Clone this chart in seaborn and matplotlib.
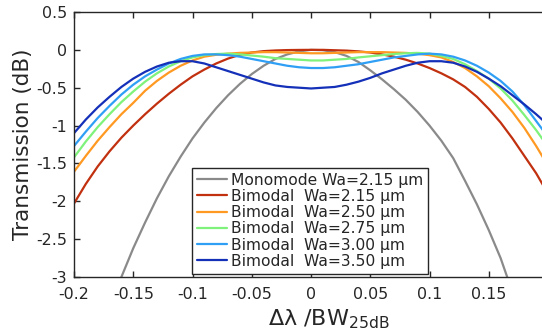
import numpy as np
import pandas as pd
import seaborn as sns
import matplotlib.pyplot as plt
from matplotlib.ticker import FormatStrFormatter

# normalised detuning, sampled every 0.01
x = [-0.20, -0.19, -0.18, -0.17, -0.16, -0.15, -0.14, -0.13, -0.12, -0.11,
     -0.10, -0.09, -0.08, -0.07, -0.06, -0.05, -0.04, -0.03, -0.02, -0.01,
     0.00, 0.01, 0.02, 0.03, 0.04, 0.05, 0.06, 0.07, 0.08, 0.09,
     0.10, 0.11, 0.12, 0.13, 0.14, 0.15, 0.16, 0.17, 0.18, 0.19, 0.20]

# monomode curve only read where it is inside the axes
x_mono = [-0.17, -0.16, -0.15, -0.14, -0.13, -0.12, -0.11, -0.10, -0.09, -0.08,
          -0.07, -0.06, -0.05, -0.04, -0.03, -0.02, -0.01, 0.00, 0.01, 0.02,
          0.03, 0.04, 0.05, 0.06, 0.07, 0.08, 0.09, 0.10, 0.11, 0.12,
          0.13, 0.14, 0.15, 0.16, 0.17]
mono_215 = [-3.40, -3.00, -2.62, -2.28, -1.96, -1.67, -1.41, -1.17, -0.96, -0.77,
            -0.60, -0.45, -0.32, -0.21, -0.12, -0.06, -0.02, 0.00, -0.005, -0.03,
            -0.08, -0.16, -0.27, -0.39, -0.52, -0.66, -0.82, -1.00, -1.20, -1.43,
            -1.73, -2.04, -2.38, -2.75, -3.20]

bi_215 = [-2.03, -1.77, -1.54, -1.34, -1.16, -1.00, -0.85, -0.71, -0.58, -0.46,
          -0.35, -0.26, -0.18, -0.115, -0.065, -0.035, -0.017, -0.008, -0.003, -0.001,
          0.00, 0.00, -0.005, -0.01, -0.02, -0.035, -0.06, -0.09, -0.13, -0.18,
          -0.24, -0.31, -0.39, -0.49, -0.62, -0.78, -0.96, -1.17, -1.40, -1.63, -1.90]
bi_250 = [-1.61, -1.40, -1.20, -1.02, -0.85, -0.70, -0.54, -0.41, -0.30, -0.21,
          -0.14, -0.09, -0.065, -0.05, -0.04, -0.035, -0.03, -0.03, -0.035, -0.04,
          -0.045, -0.045, -0.04, -0.035, -0.03, -0.03, -0.03, -0.035, -0.04, -0.05,
          -0.07, -0.10, -0.16, -0.24, -0.35, -0.48, -0.64, -0.82, -1.03, -1.27, -1.53]
bi_275 = [-1.42, -1.21, -1.02, -0.85, -0.69, -0.55, -0.42, -0.31, -0.22, -0.15,
          -0.10, -0.07, -0.055, -0.05, -0.06, -0.075, -0.09, -0.11, -0.12, -0.13,
          -0.14, -0.14, -0.13, -0.12, -0.10, -0.085, -0.07, -0.055, -0.045, -0.04,
          -0.05, -0.08, -0.12, -0.19, -0.28, -0.38, -0.51, -0.67, -0.86, -1.06, -1.28]
bi_300 = [-1.27, -1.08, -0.90, -0.74, -0.59, -0.46, -0.35, -0.26, -0.18, -0.12,
          -0.08, -0.06, -0.06, -0.07, -0.09, -0.12, -0.15, -0.18, -0.21, -0.23,
          -0.24, -0.24, -0.23, -0.21, -0.19, -0.16, -0.13, -0.10, -0.08, -0.06,
          -0.05, -0.06, -0.09, -0.14, -0.21, -0.30, -0.41, -0.55, -0.73, -0.94, -1.15]
bi_350 = [-1.10, -0.92, -0.76, -0.62, -0.49, -0.38, -0.29, -0.22, -0.17, -0.15,
          -0.15, -0.18, -0.23, -0.28, -0.33, -0.38, -0.43, -0.47, -0.49, -0.50,
          -0.51, -0.50, -0.49, -0.46, -0.42, -0.37, -0.31, -0.26, -0.21, -0.17,
          -0.15, -0.15, -0.17, -0.22, -0.29, -0.38, -0.48, -0.60, -0.72, -0.85, -0.99]

labels = ['Monomode Wa=2.15 µm', 'Bimodal  Wa=2.15 µm', 'Bimodal  Wa=2.50 µm',
          'Bimodal  Wa=2.75 µm', 'Bimodal  Wa=3.00 µm', 'Bimodal  Wa=3.50 µm']
colors = ['#8a8a8a', '#c1300f', '#ff9922', '#7ef27a', '#2f9ff5', '#1430b8']

yticks = [0.5, 0, -0.5, -1, -1.5, -2, -2.5, -3]
xticks = [-0.2, -0.15, -0.1, -0.05, 0, 0.05, 0.1, 0.15]

sns.set_style('ticks')
plt.rcParams['font.family'] = ['DejaVu Sans']
plt.rcParams['axes.unicode_minus'] = False
plt.rcParams['mathtext.fontset'] = 'dejavusans'
plt.rcParams['mathtext.default'] = 'regular'

txt = '#262626'
fig = plt.figure(figsize=(5.42, 3.32), dpi=100)
ax = fig.add_axes([74 / 542, 55 / 332, 474 / 542, 265 / 332])

series = [(x_mono, mono_215)] + [(x, s) for s in (bi_215, bi_250, bi_275, bi_300, bi_350)]
for (xs, ys), lab, col in zip(series, labels, colors):
    df = pd.DataFrame({'x': xs, 'y': ys})
    sns.lineplot(data=df, x='x', y='y', color=col, lw=1.6, label=lab, ax=ax, legend=False)

ax.set_xlim(-0.2, 0.2)
ax.set_ylim(-3, 0.5)
ax.set_xticks(xticks)
ax.set_yticks(yticks)
ax.xaxis.set_major_formatter(FormatStrFormatter('%g'))
ax.yaxis.set_major_formatter(FormatStrFormatter('%g'))
ax.tick_params(direction='in', length=4, width=1, colors=txt, labelsize=11.4,
               top=True, pad=5)
ax.tick_params(axis='x', pad=7)
for s in ax.spines.values():
    s.set_color(txt)
    s.set_linewidth(1)

ax.set_ylabel('Transmission (dB)', fontsize=15.5, color=txt)
ax.yaxis.set_label_coords(-0.087, 0.5)
ax.set_xlabel('Δλ /BW$_{25dB}$', fontsize=16, color=txt)
ax.xaxis.set_label_coords(0.538, -0.115)

leg = ax.legend(loc='lower left', bbox_to_anchor=(0.248, 0.012), borderaxespad=0,
                fontsize=11.2, frameon=True, fancybox=False, handlelength=1.93,
                handletextpad=0.26, labelspacing=0.08, borderpad=0.32)
leg.get_frame().set_edgecolor(txt)
leg.get_frame().set_linewidth(1)
leg.get_frame().set_alpha(1)
for t in leg.get_texts():
    t.set_color(txt)
for h in leg.get_lines():
    h.set_linewidth(1.6)

fig.savefig('out.png', dpi=100)
